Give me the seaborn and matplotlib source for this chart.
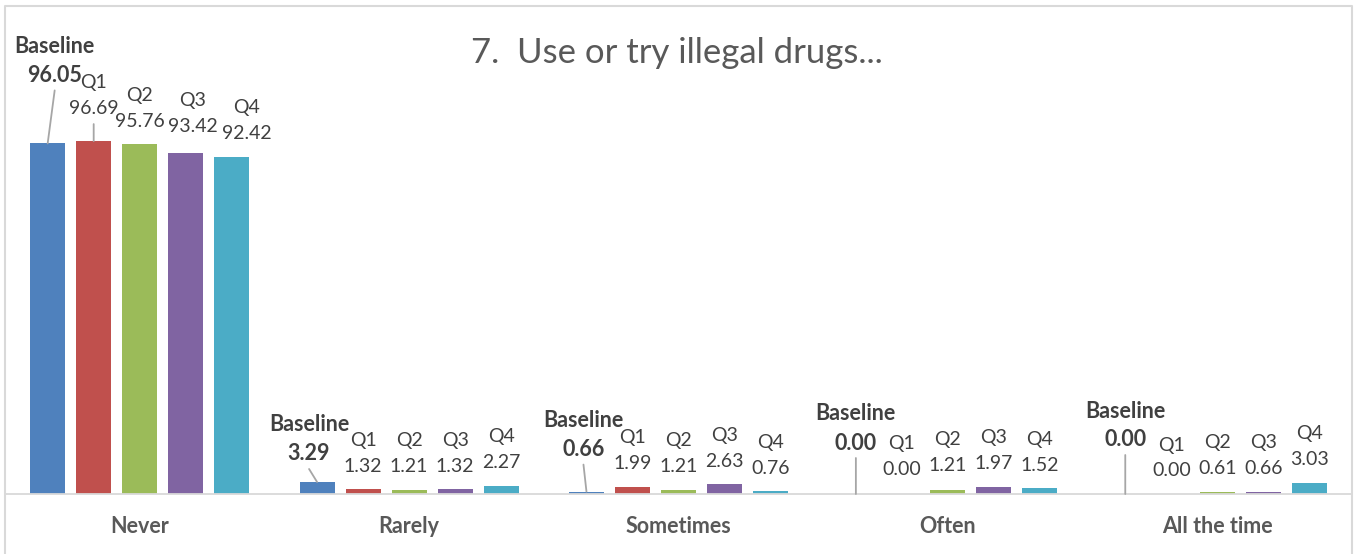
import pandas as pd
import numpy as np
import seaborn as sns
import matplotlib.pyplot as plt

# answers per period (percent)
responses = ['Never', 'Rarely', 'Sometimes', 'Often', 'All the time']
periods = ['Baseline', 'Q1', 'Q2', 'Q3', 'Q4']
baseline = [96.05, 3.29, 0.66, 0.00, 0.00]
q1 = [96.69, 1.32, 1.99, 0.00, 0.00]
q2 = [95.76, 1.21, 1.21, 1.21, 0.61]
q3 = [93.42, 1.32, 2.63, 1.97, 0.66]
q4 = [92.42, 2.27, 0.76, 1.52, 3.03]

colors = ['#4F81BD', '#C0504D', '#9BBB59', '#8064A2', '#4BACC6']

values = [baseline, q1, q2, q3, q4]
df = pd.DataFrame({
    'Response': responses * len(periods),
    'Period': np.repeat(periods, len(responses)),
    'Percent': np.concatenate(values),
})

# hand placed labels, (dx px, dy px of value line above bar top, leader line)
label_pos = {
    ('Never', 'Baseline'): (7, 70, True),
    ('Never', 'Q1'): (0, 34, True),
    ('Never', 'Q3'): (7, 28, False),
    ('Never', 'Q4'): (15, 25, False),
    ('Rarely', 'Baseline'): (-8, 30, True),
    ('Sometimes', 'Baseline'): (-3, 44, True),
    ('Often', 'Baseline'): (0, 53, True),
    ('Often', 'Q1'): (0, 26, False),
    ('Often', 'Q2'): (0, 26, False),
    ('All the time', 'Baseline'): (0, 56, True),
}

sns.set_theme(style='white')
plt.rcParams['font.family'] = ['Lato', 'DejaVu Sans']

fig = plt.figure(figsize=(13.54, 5.54), dpi=100)
ax = fig.add_axes([5 / 1354, 60 / 554, 1347 / 1354, 438 / 554])

sns.barplot(data=df, x='Response', y='Percent', hue='Period', palette=colors,
            order=responses, hue_order=periods, width=0.854, gap=0.24,
            saturation=1, errorbar=None, legend=False, linewidth=0, ax=ax)
ax.set_ylim(0, 120)
ax.set_xlim(-0.5, 4.5)
ax.set_xlabel('')
ax.set_ylabel('')
ax.set_yticks([])
for s in ['left', 'right', 'top']:
    ax.spines[s].set_visible(False)
ax.spines['bottom'].set_color('#D9D9D9')
ax.spines['bottom'].set_linewidth(1.3)
ax.tick_params(axis='x', length=0, pad=16)
for t in ax.get_xticklabels():
    t.set_fontsize(15.5)
    t.set_fontweight('bold')
    t.set_color('#595959')

txt = '#404040'
for period, cont in zip(periods, ax.containers):
    bold = period == 'Baseline'
    for resp, bar in zip(responses, cont):
        xc = bar.get_x() + bar.get_width() / 2
        top = bar.get_height()
        dx, dy, leader = label_pos.get((resp, period), (0, 24.5, False))
        fs = 15.5 if bold else 14
        fw = 'bold' if bold else 'normal'
        spacing = 29 if bold else 26
        ax.annotate(f'{top:.2f}', xy=(xc, top), xytext=(dx, dy),
                    textcoords='offset pixels', ha='center', va='center_baseline',
                    fontsize=fs, fontweight=fw, color=txt)
        ax.annotate(period, xy=(xc, top), xytext=(dx, dy + spacing),
                    textcoords='offset pixels', ha='center', va='center_baseline',
                    fontsize=fs, fontweight=fw, color=txt)
        if leader:
            ax.annotate('', xy=(xc, top), xytext=(dx, dy - 17),
                        textcoords='offset pixels',
                        arrowprops=dict(arrowstyle='-', color='#A6A6A6', lw=1.3,
                                        shrinkA=0, shrinkB=0))

fig.text(0.5, 1 - 50 / 554, '7.  Use or try illegal drugs...', ha='center',
         va='center_baseline', fontsize=25, color='#595959')

# chart frame
fx = [5 / 1354, 5 / 1354, 1352 / 1354, 1352 / 1354]
fy = [-0.1, 1 - 6 / 554, 1 - 6 / 554, -0.1]
fig.add_artist(plt.Line2D(fx, fy, color='#D9D9D9', lw=1.5, transform=fig.transFigure))

fig.savefig('out.png', dpi=100)
